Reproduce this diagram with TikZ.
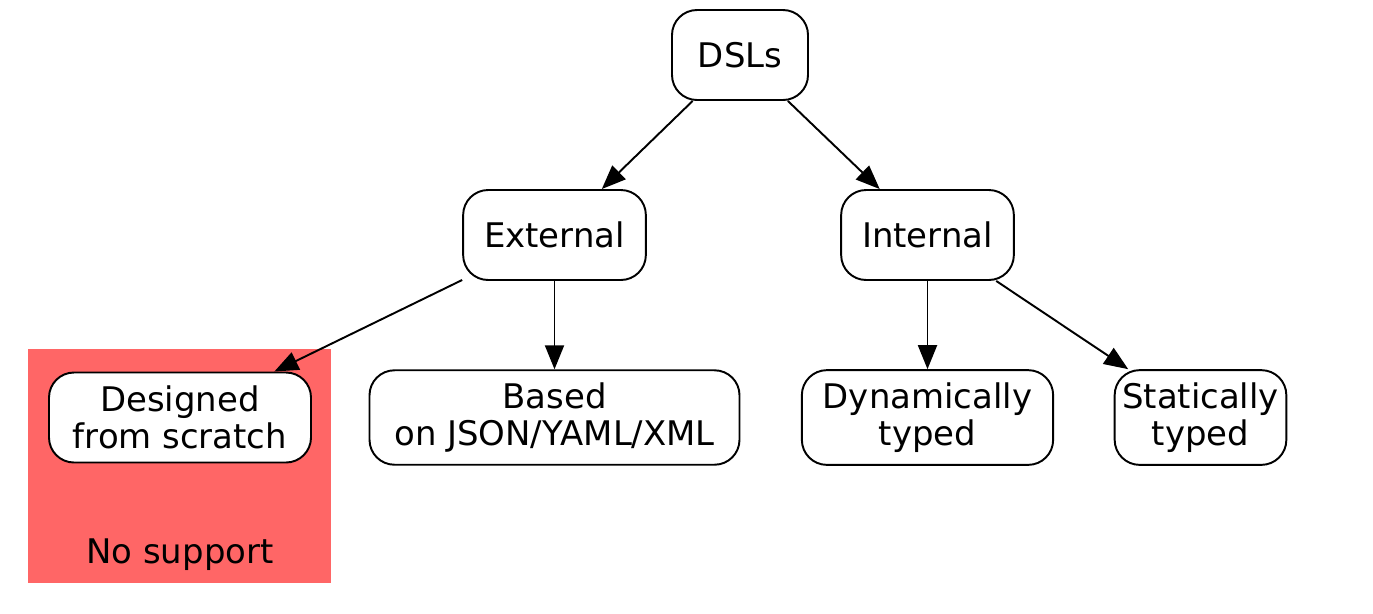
\documentclass[tikz,border=0pt]{standalone}
\usepackage{fontspec}
\setmainfont{DejaVu Sans}
\usetikzlibrary{arrows.meta}
\definecolor{nosupport}{HTML}{FF6666}
\begin{document}
\begin{tikzpicture}[
    box/.style={draw,rounded corners=0.5cm,align=center,fill=white,
        inner xsep=0.42cm,inner ysep=0.25cm,minimum height=1.8cm,
        font=\fontsize{19.3}{21}\selectfont,line width=1.1pt},
    >={Triangle[length=0.48cm,width=0.38cm]}
]
\useasboundingbox (0,0) rectangle (27.46,-12.26);
% cluster
\fill[nosupport] (0.56,-6.98) rectangle (6.62,-11.66);
\node[anchor=base,font=\fontsize{19.3}{21}\selectfont] (nosup) at (3.6,-11.26) {No support};

\node[box,minimum width=2.72cm] (dsls) at (14.8,-1.1) {DSLs};
\node[box] (ext) at (11.09,-4.7) {External};
\node[box] (int) at (18.55,-4.7) {Internal};
\node[box,minimum width=5.24cm] (scratch) at (3.6,-8.35) {Designed\\from scratch};
\node[box,minimum width=7.4cm] (json) at (11.09,-8.35) {Based\\on JSON/YAML/XML};
\node[box] (dyn) at (18.55,-8.35) {Dynamically\\typed};
\node[box,inner xsep=0.15cm,minimum width=3.42cm] (stat) at (24.01,-8.35) {Statically\\typed};

\draw[->,line width=1.1pt] (dsls)--(ext);
\draw[->,line width=1.1pt] (dsls)--(int);
\draw[->,line width=1.1pt] (ext)--(scratch);
\draw[->,line width=1.1pt] (ext)--(json);
\draw[->,line width=1.1pt] (int)--(dyn);
\draw[->,line width=1.1pt] (int)--(stat);
\end{tikzpicture}
\end{document}
